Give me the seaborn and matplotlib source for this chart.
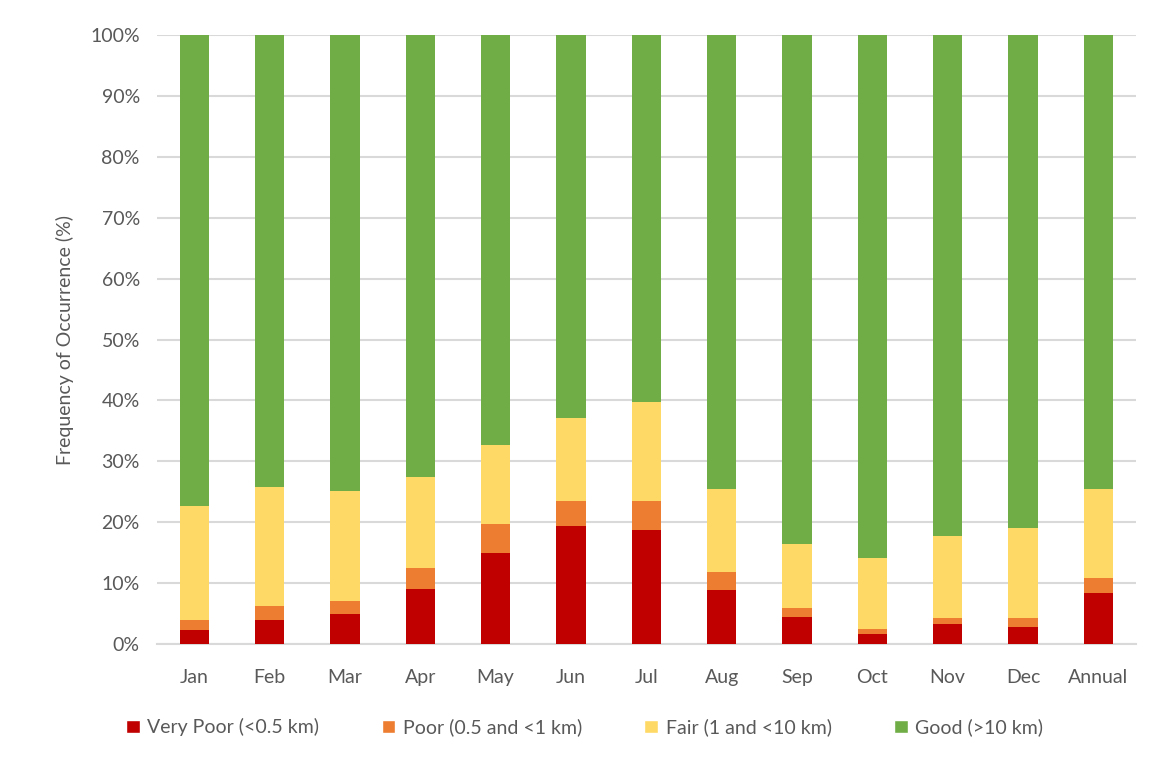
import matplotlib
matplotlib.use('Agg')
import matplotlib.pyplot as plt
from matplotlib.patches import Patch
from matplotlib.ticker import PercentFormatter
import numpy as np
import seaborn as sns

months = ['Jan', 'Feb', 'Mar', 'Apr', 'May', 'Jun', 'Jul', 'Aug', 'Sep', 'Oct', 'Nov', 'Dec', 'Annual']
very_poor = [2.3, 3.9, 4.9, 9.1, 15.0, 19.4, 18.8, 8.9, 4.5, 1.7, 3.2, 2.8, 8.3]
poor = [1.6, 2.3, 2.1, 3.4, 4.7, 4.0, 4.6, 2.9, 1.4, 0.8, 1.0, 1.4, 2.5]
fair = [18.8, 19.5, 18.1, 14.9, 13.0, 13.7, 16.4, 13.7, 10.6, 11.6, 13.5, 14.8, 14.7]
good = [77.3, 74.3, 74.9, 72.6, 67.3, 62.9, 60.2, 74.5, 83.5, 85.9, 82.3, 81.0, 74.5]

labels = ['Very Poor (<0.5 km)', 'Poor (0.5 and <1 km)', 'Fair (1 and <10 km)', 'Good (>10 km)']
colors = ['#C00000', '#ED7D31', '#FFD966', '#70AD47']

sns.set_style('white')
plt.rcParams['font.family'] = ['Lato', 'DejaVu Sans']
txt = '#595959'

fig = plt.figure(figsize=(11.51, 7.63), dpi=100)
ax = fig.add_axes([0.136, 0.156, 0.851, 0.798])

bottom = np.zeros(len(months))
for vals, c in zip([very_poor, poor, fair, good], colors):
    sns.barplot(x=months, y=vals, bottom=bottom, color=c, width=0.39, saturation=1,
                linewidth=0, ax=ax, zorder=3)
    bottom = bottom + np.array(vals)

ax.set_ylim(0, 100)
ax.set_xlim(-0.5, len(months) - 0.5)
ax.set_yticks(range(0, 101, 10))
ax.yaxis.set_major_formatter(PercentFormatter(decimals=0))
ax.grid(axis='y', color='#D9D9D9', linewidth=1.5, zorder=0)
for s in ['top', 'right', 'left']:
    ax.spines[s].set_visible(False)
ax.spines['bottom'].set_color('#D9D9D9')
ax.spines['bottom'].set_linewidth(1.5)
ax.tick_params(axis='y', length=0, labelsize=14, labelcolor=txt, pad=12)
ax.tick_params(axis='x', length=0, labelsize=14, labelcolor=txt, pad=18)
ax.set_ylabel('Frequency of Occurrence (%)', fontsize=14, color=txt, labelpad=12)
ax.set_xlabel('')

handles = [Patch(facecolor=c, label=l) for c, l in zip(colors, labels)]
fig.legend(handles=handles, loc='center', bbox_to_anchor=(0.508, 0.047), ncol=4,
           frameon=False, fontsize=14, labelcolor=txt, handlelength=0.7,
           handleheight=0.7, handletextpad=0.4, columnspacing=3.2)

fig.savefig('out.png', dpi=100)
